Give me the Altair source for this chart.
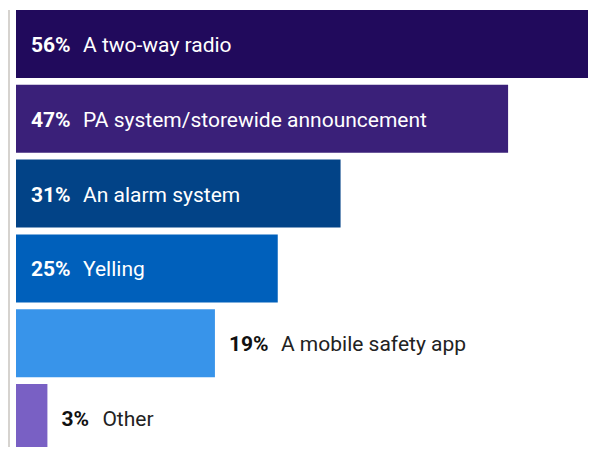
import altair as alt
import pandas as pd

categories = ["A two-way radio", "PA system/storewide announcement", "An alarm system",
              "Yelling", "A mobile safety app", "Other"]
values = [56, 47, 31, 25, 19, 3]
bar_colors = ["#210a5c", "#3a2079", "#024387", "#0060bb", "#3894ea", "#7960c4"]

df = pd.DataFrame({"category": categories, "value": values, "barcolor": bar_colors})

W, H = 580, 439
PX = 10.47          # pixels per percentage point
LEFT = 8            # pixels between plot edge and bar start
STEP = 74.8
PI = 0.091
FS = 21
xscale = alt.Scale(domain=[-LEFT / PX, (W - LEFT) / PX], nice=False, zero=False)
yenc = alt.Y("category:N", sort=categories, axis=None,
             scale=alt.Scale(paddingInner=PI, paddingOuter=0,
                             range=[2, 2 + STEP * (len(categories) - PI)]))

base = alt.Chart(df).transform_calculate(
    inside="datum.value > 20",
    pct="datum.value + '%'",
    ndig="length(toString(datum.value))",
).transform_calculate(
    px=f"datum.inside ? 15 / {PX} : datum.value + 14 / {PX}",
    tcol="datum.inside ? '#ffffff' : '#111111'",
    lcol="datum.inside ? '#ffffff' : '#222222'",
).transform_calculate(
    lx=f"datum.px + (30 + 11 * datum.ndig) / {PX}",
)

bars = base.mark_bar(clip=True).encode(
    x=alt.X("value:Q", scale=xscale, axis=None),
    x2=alt.datum(0),
    y=yenc,
    color=alt.Color("barcolor:N", scale=None),
)

rule = alt.Chart(df).mark_rule(color="#d6d3cf", strokeWidth=1.5).encode(
    x=alt.value(1), y=alt.value(2), y2=alt.value(H)
)

pct = base.mark_text(align="left", baseline="middle", fontSize=FS, fontWeight="bold",
                     font="Roboto", dy=2).encode(
    x=alt.X("px:Q", scale=xscale, axis=None),
    y=yenc,
    text="pct:N",
    color=alt.Color("tcol:N", scale=None),
)

lab = base.mark_text(align="left", baseline="middle", fontSize=FS,
                     font="Roboto", dy=2).encode(
    x=alt.X("lx:Q", scale=xscale, axis=None),
    y=yenc,
    text="category:N",
    color=alt.Color("lcol:N", scale=None),
)

chart = alt.layer(rule, bars, pct, lab).properties(
    width=W, height=H, padding=0,
    autosize=alt.AutoSizeParams(type="none"),
).configure_view(stroke=None)

chart.save("out.html", embed_options={"renderer": "svg", "actions": False})
